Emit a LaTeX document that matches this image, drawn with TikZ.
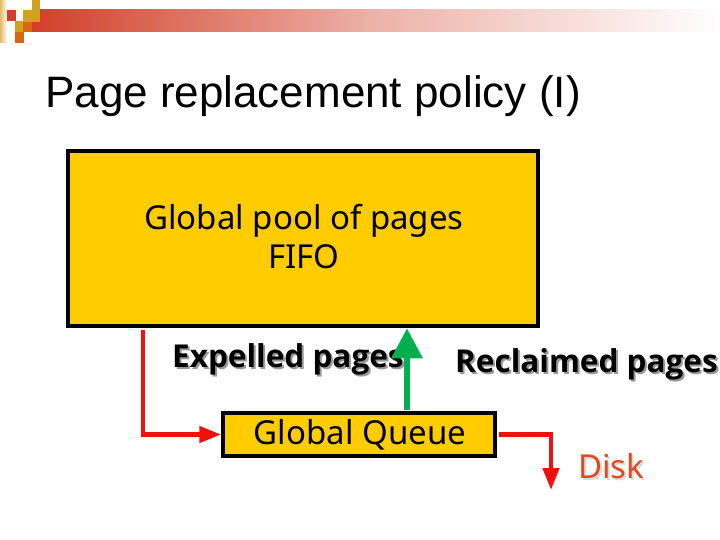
\documentclass[tikz,border=0pt]{standalone}
\usepackage{fontspec}
\setmainfont{Liberation Sans}
\newfontfamily\boxfont{Noto Sans}
\newfontfamily\labelfont{Open Sans}
\usetikzlibrary{arrows.meta}

\definecolor{poolyellow}{HTML}{FFCC00}
\definecolor{bannerred}{HTML}{D04028}
\definecolor{flowred}{HTML}{F01010}
\definecolor{flowgreen}{HTML}{00B050}
\definecolor{diskred}{HTML}{E04A1E}
\definecolor{squaregold}{HTML}{D4A020}
\definecolor{squareorange}{HTML}{D86810}

% text with a soft shadow below right
\newcommand{\shadowed}[2]{\rlap{\raisebox{-2pt}{\kern2pt\textcolor{#1}{#2}}}#2}

\tikzset{
  poolbox/.style={draw=black, fill=poolyellow, inner sep=0pt},
  labeltext/.style={font=\labelfont\bfseries\fontsize{31.5}{34}\selectfont, anchor=base west, inner sep=0pt},
  redflow/.style={draw=flowred, line width=4.5pt, -{Triangle[length=22pt,width=16pt]}},
  greenflow/.style={draw=flowgreen, line width=6pt, -{Triangle[length=30pt,width=30pt]}}
}

\begin{document}
\begin{tikzpicture}[x=1pt,y=-1pt]
\useasboundingbox (0,0) rectangle (720,540);
% banner with squares
\shade[left color=bannerred, right color=white, middle color=bannerred!40] (32,10) rectangle (720,32);
\shade[left color=squaregold!70, right color=white] (0,0) rectangle (7,43);
\fill[bannerred] (7,10) rectangle (16,21);
\fill[squaregold] (23,10) rectangle (40,22);
\fill[squaregold] (32,0) rectangle (40,10);
\fill[squaregold] (15,21) rectangle (24,32);
\fill[squareorange] (23,22) rectangle (32,32);
\fill[squareorange] (15,32) rectangle (24,43);
% title
\node[anchor=base west, inner sep=0pt, font=\fontsize{44}{48}\selectfont] (title) at (45,108) {Page replacement policy (I)};
% boxes
\node[poolbox, line width=4.5pt, minimum width=470pt, minimum height=175pt] (pool) at (303,238.5) {};
\node[align=center, font=\boxfont\fontsize{33}{39}\selectfont] (pooltext) at (304,237) {Global pool of pages\\FIFO};
\node[poolbox, line width=3.5pt, minimum width=272pt, minimum height=43pt] (queue) at (359,434.5) {};
\node[anchor=base, inner sep=0pt, font=\boxfont\fontsize{33}{35}\selectfont] (queuetext) at (360,444) {Global Queue};
% labels
\node[labeltext] (expelled) at (172,367) {\shadowed{black!40}{Expelled pages}};
\node[labeltext] (reclaimed) at (455,372) {\shadowed{black!40}{Reclaimed pages}};
\node[anchor=base west, inner sep=0pt, text=diskred, font=\boxfont\fontsize{33}{35}\selectfont] (disk) at (578,478) {\shadowed{black!15}{Disk}};
% flows
\coordinate (up) at (407,410);
\coordinate (down) at (551,490);
\draw[redflow] (pool.south west) ++(77,2) |- (queue.west);
\draw[greenflow] (up) -- (up |- pool.south);
\draw[redflow] (queue.east) ++(2,0) -| (down);
\end{tikzpicture}
\end{document}
